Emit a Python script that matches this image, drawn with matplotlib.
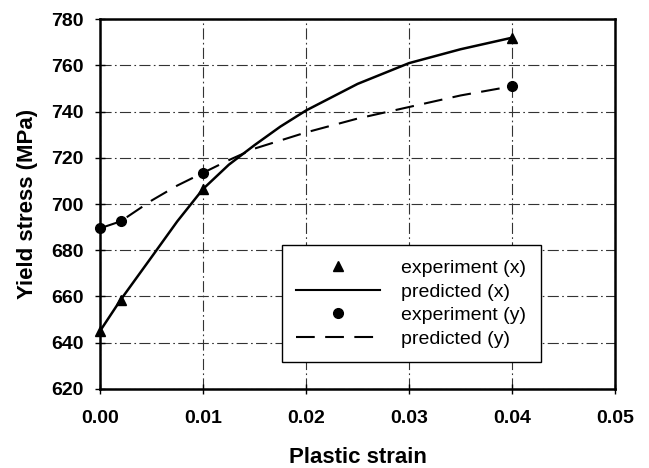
import matplotlib
matplotlib.use("Agg")
import matplotlib.pyplot as plt
from matplotlib.lines import Line2D

plt.rcParams["font.family"] = ["Liberation Sans", "DejaVu Sans"]

# Points mesurés
strain_exp = [0.0, 0.002, 0.01, 0.04]
stress_exp_x = [645, 658.5, 706.5, 772]
stress_exp_y = [689.5, 692.5, 713.5, 751]

# Courbes prédites
strain_pred = [0.0, 0.002, 0.005, 0.0075, 0.01, 0.0125, 0.015, 0.0175, 0.02, 0.025, 0.03, 0.035, 0.04]
stress_pred_x = [645, 658.5, 677, 692.5, 706.5, 717, 725.5, 733.5, 740.5, 752, 761, 767, 772]
stress_pred_y = [689.5, 692.5, 701.5, 708, 713.5, 719, 724, 727.5, 731, 737, 742, 747, 751]

x_ticks = [0.00, 0.01, 0.02, 0.03, 0.04, 0.05]
y_ticks = [620, 640, 660, 680, 700, 720, 740, 760, 780]

fig = plt.figure(figsize=(6.49, 4.68), dpi=100)
ax = fig.add_axes([0.154, 0.169, 0.794, 0.790])

ax.plot(strain_pred, stress_pred_x, color="black", lw=1.8, zorder=3)
ax.plot(strain_pred, stress_pred_y, color="black", lw=1.5, dashes=(9, 5), zorder=3)
ax.plot(strain_exp, stress_exp_x, "^", color="black", ms=7.5, clip_on=False, zorder=4)
ax.plot(strain_exp, stress_exp_y, "o", color="black", ms=7, clip_on=False, zorder=4)

ax.set_xlim(0, 0.05)
ax.set_ylim(620, 780)
ax.set_xticks(x_ticks)
ax.set_yticks(y_ticks)
ax.set_xticklabels([f"{t:.2f}" for t in x_ticks], fontweight="bold", fontsize=14)
ax.set_yticklabels([str(t) for t in y_ticks], fontweight="bold", fontsize=14)
ax.tick_params(direction="inout", length=7, width=1)
ax.tick_params(axis="x", pad=12)
ax.tick_params(axis="y", pad=8)

ax.grid(True, color="#333333", lw=0.8, linestyle=(0, (10, 3, 1.5, 3)))
for s in ax.spines.values():
    s.set_linewidth(1.8)

ax.set_xlabel("Plastic strain", fontweight="bold", fontsize=16, labelpad=14)
ax.set_ylabel("Yield stress (MPa)", fontweight="bold", fontsize=16, labelpad=10)

handles = [
    Line2D([], [], marker="^", color="black", ls="none", ms=7),
    Line2D([], [], color="black", lw=1.5),
    Line2D([], [], marker="o", color="black", ls="none", ms=7),
    Line2D([], [], color="black", lw=1.5, dashes=(9, 5)),
]
labels = ["experiment (x)", "predicted (x)", "experiment (y)", "predicted (y)"]
leg = ax.legend(handles, labels, loc="upper left", bbox_to_anchor=(0.353, 0.389),
                fontsize=14, handlelength=4.3, handletextpad=1.1,
                labelspacing=0.3, borderaxespad=0, fancybox=False, framealpha=1,
                edgecolor="black", shadow=False, borderpad=0.75)
leg.get_frame().set_linewidth(1.0)

fig.savefig("out.png", dpi=100)
